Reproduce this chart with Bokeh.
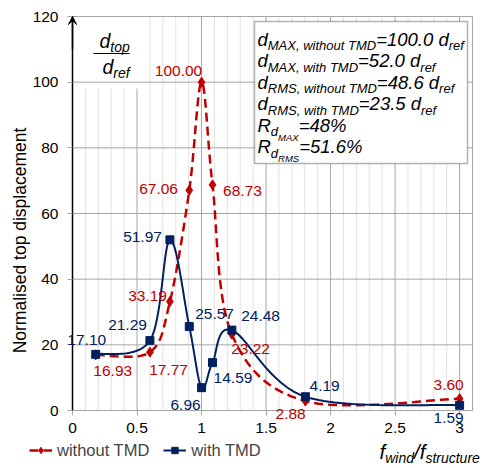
import numpy as np
from bokeh.plotting import figure
from bokeh.models import (Label, BoxAnnotation, Arrow, VeeHead, FixedTicker,
                          NumeralTickFormatter, Legend, LegendItem)
from bokeh.embed import file_html
from bokeh.resources import INLINE

# ---------------- data ----------------
freq_ratio = [0.18, 0.6, 0.755, 0.905, 1.0, 1.085, 1.235, 1.805, 3.0]
without_tmd = [16.93, 17.77, 33.19, 67.06, 100.00, 68.73, 23.22, 2.88, 3.60]
with_tmd = [17.10, 21.29, 51.97, 25.57, 6.96, 14.59, 24.48, 4.19, 1.59]
series_names = ["without TMD", "with TMD"]
x_ticks = [0, 0.5, 1, 1.5, 2, 2.5, 3]
x_minor = [round(i * 0.1, 1) for i in range(32)]
y_ticks = [0, 20, 40, 60, 80, 100, 120]
y_title = "Normalised top displacement"
X_MAX, Y_MAX = 3.1, 120

RED = "#c00000"
BLUE = "#002060"
GRID = "#a6a6a6"
MINOR = "#e2e2e2"
FONT = "Liberation Sans"

red_off = [(17, -16), (18.6, -18.3), (-22.4, 6), (-30.7, 1.8), (-23, 10.7),
           (30, -5.7), (18.7, -15), (-14.8, -12.5), (-11, 13.2)]
blue_off = [(-9, 14), (-22.4, 16), (-27.4, 2.4), (25.3, 13), (-16, -17),
            (20.5, -15), (28.7, 14.6), (19.2, 11.2), (-11, -13.2)]

# ---------------- figure (frame = whole canvas) ----------------
W, H = 484, 468
PX0, PY0, PX1, PY1 = 72, 410, 472, 16      # plot-area corners in page px
kx = (PX1 - PX0) / X_MAX
ky = (PY0 - PY1) / Y_MAX
x_range = (-PX0 / kx, X_MAX + (W - PX1) / kx)
y_range = (-(H - PY0) / ky, Y_MAX + PY1 / ky)

p = figure(width=W, height=H, x_range=x_range, y_range=y_range,
           output_backend="svg", toolbar_location=None,
           min_border_left=0, min_border_right=0, min_border_top=0,
           min_border_bottom=0)
p.background_fill_color = "white"
p.border_fill_color = "white"
p.outline_line_color = None
p.xgrid.visible = False
p.ygrid.visible = False

p.xaxis.ticker = FixedTicker(ticks=x_ticks, minor_ticks=x_minor)
p.xaxis.formatter = NumeralTickFormatter(format="0.[0]")
p.yaxis.ticker = FixedTicker(ticks=y_ticks)
p.xaxis.fixed_location = 0
p.yaxis.fixed_location = 0
p.xaxis.bounds = (0, X_MAX)
p.yaxis.bounds = (0, Y_MAX)
for ax in (p.xaxis[0], p.yaxis[0]):
    ax.major_label_text_font = FONT
    ax.major_label_text_font_size = "15.5px"
    ax.major_label_text_color = "black"
    ax.major_tick_in = 0
    ax.major_tick_out = 5
    ax.minor_tick_in = 0
    ax.minor_tick_out = 0
    ax.major_tick_line_color = GRID
p.xaxis.axis_line_color = GRID
p.xaxis.major_label_standoff = 7
p.yaxis.axis_line_color = "black"
p.yaxis.axis_line_width = 1.5
p.yaxis.major_label_standoff = 9

def px2x(px):
    return (px - PX0) / kx

def px2y(py):
    return (PY0 - py) / ky

# ---------------- grid lines ----------------
minor_x = [v for v in x_minor if v not in x_ticks and v < X_MAX]
p.segment(x0=minor_x, y0=0, x1=minor_x, y1=Y_MAX, line_color=MINOR, line_width=1)
p.segment(x0=x_ticks, y0=0, x1=x_ticks, y1=Y_MAX, line_color=GRID, line_width=1)
p.quad(left=0.004, right=px2x(143), bottom=px2y(88), top=Y_MAX,
       fill_color="white", line_alpha=0)
p.segment(x0=0, y0=y_ticks, x1=X_MAX, y1=y_ticks, line_color=GRID, line_width=1)
p.segment(x0=X_MAX, y0=0, x1=X_MAX, y1=Y_MAX, line_color=GRID, line_width=1)

# ---------------- smooth curves ----------------
def smooth(xs, ys, n=30):
    P = np.column_stack([xs, ys]).astype(float)
    P = np.vstack([P[0], P, P[-1]])
    t = np.linspace(0, 1, n)[:, None]
    out = []
    for i in range(1, len(P) - 2):
        p0, p1, p2, p3 = P[i - 1], P[i], P[i + 1], P[i + 2]
        b1 = p1 + (p2 - p0) / 6
        b2 = p2 - (p3 - p1) / 6
        seg = ((1 - t) ** 3 * p1 + 3 * (1 - t) ** 2 * t * b1
               + 3 * (1 - t) * t ** 2 * b2 + t ** 3 * p2)
        out.append(seg if i == 1 else seg[1:])
    out = np.vstack(out)
    return out[:, 0], out[:, 1]

rx, ry = smooth(freq_ratio, without_tmd)
bx, by = smooth(freq_ratio, with_tmd)
r_line = p.line(rx, ry, line_color=RED, line_width=2.5, line_dash="9 5")
r_pts = p.scatter(freq_ratio, without_tmd, marker="diamond", size=10,
                  fill_color=RED, line_color=RED)
b_line = p.line(bx, by, line_color=BLUE, line_width=2)
b_pts = p.scatter(freq_ratio, with_tmd, marker="square", size=8,
                  fill_color=BLUE, line_color=BLUE)

# value labels
for xs, ys, offs, col in ((freq_ratio, without_tmd, red_off, RED),
                          (freq_ratio, with_tmd, blue_off, BLUE)):
    for xv, yv, (dx, dy) in zip(xs, ys, offs):
        p.add_layout(Label(x=xv, y=yv, x_offset=dx, y_offset=dy,
                           text=f"{yv:.2f}", text_align="center",
                           text_baseline="middle", text_font=FONT,
                           text_font_size="15.5px", text_color=col))

# y axis arrow
p.add_layout(Arrow(end=VeeHead(size=8, line_color="black", fill_color="black",
                               line_width=1),
                   x_start=0, y_start=110, x_end=0, y_end=Y_MAX,
                   line_color="black", line_width=1.5))

# y axis title
p.add_layout(Label(x=0, y=0, x_offset=19 - PX0, y_offset=PY0 - 240,
                   angle=np.pi / 2, angle_units="rad", text=y_title,
                   text_align="center", text_baseline="middle",
                   text_font=FONT, text_font_size="17.5px", text_color="black"))

# ---------------- rich text (sub/superscripts) ----------------
ARIAL = {' ': 278, '%': 889, ',': 278, '.': 278, '/': 278, '=': 584,
         'A': 667, 'D': 722, 'M': 833, 'R': 722, 'S': 667, 'T': 611, 'X': 667,
         'a': 556, 'c': 500, 'd': 556, 'e': 556, 'f': 278, 'h': 556, 'i': 222,
         'n': 556, 'o': 556, 'p': 556, 'r': 333, 's': 500, 't': 278, 'u': 556,
         'w': 722}

def tw(s, size):
    return sum(ARIAL.get(c, 556) for c in s) * size / 1000

def rich(px, py, pieces):
    """py = baseline in page px; each piece (text, size, baseline shift down)."""
    x = px
    for text, size, dy in pieces:
        cy = py + dy - 0.35 * size
        p.add_layout(Label(x=0, y=0, x_offset=x - PX0, y_offset=PY0 - cy,
                           text=text, text_font=FONT, text_font_style="italic",
                           text_font_size=f"{size}px", text_baseline="middle",
                           text_align="left", text_color="black"))
        x += tw(text, size)

# info box
p.add_layout(BoxAnnotation(left=px2x(254), right=px2x(467), bottom=px2y(163),
                           top=px2y(21), fill_color="white", fill_alpha=1,
                           line_color="black", line_width=1.5))
F, S = 18.5, 13
info = [
    [("d", F, 0), ("MAX, without TMD", S, 5), ("=100.0 ", F, 0), ("d", F, 0), ("ref", S, 5)],
    [("d", F, 0), ("MAX, with TMD", S, 5), ("=52.0 ", F, 0), ("d", F, 0), ("ref", S, 5)],
    [("d", F, 0), ("RMS, without TMD", S, 5), ("=48.6 ", F, 0), ("d", F, 0), ("ref", S, 5)],
    [("d", F, 0), ("RMS, with TMD", S, 5), ("=23.5 ", F, 0), ("d", F, 0), ("ref", S, 5)],
    [("R", F, 0), ("d", S, 5), ("MAX", 9.5, 9), ("=48%", F, 0)],
    [("R", F, 0), ("d", S, 5), ("RMS", 9.5, 9), ("=51.6%", F, 0)],
]
for i, pieces in enumerate(info):
    rich(257, 45 + 21.5 * i, pieces)

# fraction d_top / d_ref
rich(99, 47, [("d", 19.5, 0), ("top", 14, 4)])
rich(102, 73, [("d", 19.5, 0), ("ref", 14, 4)])
p.add_layout(Arrow(start=None, end=None, x_start=px2x(93), x_end=px2x(129),
                   y_start=px2y(53), y_end=px2y(53), line_color="black",
                   line_width=1.2))

# x axis title
rich(379, 458, [("f", 20.5, 0), ("wind", 14, 4), ("/", 20.5, 0), ("f", 20.5, 0),
                ("structure", 14, 4)])

# legend
legend = Legend(items=[LegendItem(label=series_names[0], renderers=[r_line, r_pts]),
                       LegendItem(label=series_names[1], renderers=[b_line, b_pts])],
                orientation="horizontal", location=(29, H - 460), padding=0,
                margin=0, spacing=14, glyph_width=23, glyph_height=16,
                label_height=20, label_standoff=5, label_text_font=FONT,
                label_text_font_size="16.5px", border_line_alpha=0,
                background_fill_alpha=0)
p.add_layout(legend)

open("out.html", "w").write(file_html(p, INLINE))
